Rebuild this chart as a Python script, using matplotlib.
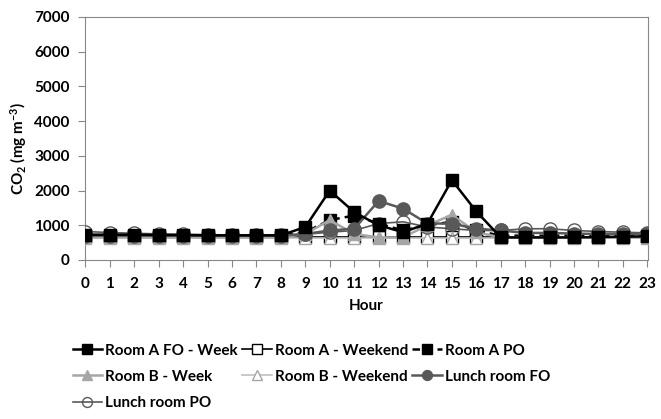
import matplotlib
matplotlib.use("Agg")
import matplotlib.pyplot as plt

plt.rcParams['font.family'] = ['Lato', 'DejaVu Sans']
plt.rcParams['font.weight'] = 'bold'
plt.rcParams['mathtext.fontset'] = 'custom'
plt.rcParams['mathtext.rm'] = 'Lato:bold'
plt.rcParams['mathtext.it'] = 'Lato:bold'
plt.rcParams['mathtext.bf'] = 'Lato:bold'
plt.rcParams['axes.unicode_minus'] = False

hours = list(range(24))
room_a_fo_week = [730, 730, 730, 720, 720, 710, 710, 710, 710, 950, 2000, 1380, 1000, 800, 1050, 2300, 1400, 650, 650, 650, 650, 660, 670, 680]
room_a_weekend = [650, 650, 650, 650, 650, 650, 650, 650, 650, 650, 650, 650, 650, 650, 650, 650, 650, 650, 650, 650, 650, 650, 650, 650]
room_a_po = [700, 700, 700, 700, 700, 700, 700, 700, 700, 800, 1150, 1280, 1050, 850, 1000, 1100, 850, 700, 700, 700, 700, 700, 700, 700]
room_b_week = [650, 650, 650, 650, 650, 650, 650, 650, 650, 750, 1150, 750, 650, 650, 1000, 1300, 800, 650, 650, 650, 650, 650, 650, 650]
room_b_weekend = [640, 640, 640, 640, 640, 640, 640, 640, 640, 640, 640, 640, 640, 640, 640, 640, 640, 640, 640, 640, 640, 640, 640, 640]
lunch_fo = [700, 700, 700, 700, 700, 700, 700, 700, 700, 750, 850, 900, 1700, 1480, 1050, 1050, 900, 850, 780, 780, 760, 750, 750, 740]
lunch_po = [820, 790, 770, 750, 740, 730, 720, 720, 720, 740, 800, 850, 1050, 1100, 950, 900, 850, 850, 900, 900, 850, 820, 800, 780]
yticks = [0, 1000, 2000, 3000, 4000, 5000, 6000, 7000]

fig = plt.figure(figsize=(6.61, 4.19), dpi=100)
ax = fig.add_axes([0.1286, 0.3795, 0.8514, 0.58])

ms = 9
h = {}
h['afo'], = ax.plot(hours, room_a_fo_week, color='black', lw=1.8, marker='s', ms=ms, mfc='black', mec='black', label='Room A FO - Week', zorder=5)
h['aw'], = ax.plot(hours, room_a_weekend, color='black', lw=1.2, marker='s', ms=ms, mfc='white', mec='black', label='Room A - Weekend', zorder=3)
h['apo'], = ax.plot(hours, room_a_po, color='black', lw=1.8, ls=(0, (3, 2)), marker='s', ms=ms, mfc='black', mec='black', label='Room A PO', zorder=4)
h['bw'], = ax.plot(hours, room_b_week, color='#a6a6a6', lw=1.8, marker='^', ms=ms, mfc='#a6a6a6', mec='#a6a6a6', label='Room B - Week', zorder=4)
h['bwe'], = ax.plot(hours, room_b_weekend, color='#bfbfbf', lw=1.2, marker='^', ms=ms, mfc='white', mec='#a6a6a6', label='Room B - Weekend', zorder=3)
h['lfo'], = ax.plot(hours, lunch_fo, color='#595959', lw=1.8, marker='o', ms=ms + 0.5, mfc='#595959', mec='#595959', label='Lunch room FO', zorder=4)
h['lpo'], = ax.plot(hours, lunch_po, color='#595959', lw=1.2, marker='o', ms=ms + 0.5, mfc='none', mec='#595959', label='Lunch room PO', zorder=3)

ax.set_ylim(0, 7000)
ax.set_xticks(hours)
ax.set_yticks(yticks)
ax.tick_params(axis='both', labelsize=11, color='#888888', direction='out', length=5)
ax.tick_params(axis='x', pad=7)
ax.tick_params(axis='y', pad=6)
for lab in ax.get_xticklabels() + ax.get_yticklabels():
    lab.set_fontweight('bold')
for s in ax.spines.values():
    s.set_color('#888888')
ax.set_xlabel('Hour', fontsize=11, fontweight='bold', labelpad=6)
ax.set_ylabel('CO$_2$ (mg m$^{-3}$)', fontsize=11, fontweight='bold')
ax.yaxis.set_label_coords(-0.1, 0.46)
ax.set_xlim(-0.02, 23.02)

order = ['afo', 'bw', 'lpo', 'aw', 'bwe', 'apo', 'lfo']
handles = [h[k] for k in order]
fig.legend(handles, [x.get_label() for x in handles], loc='upper left', bbox_to_anchor=(0.089, 0.213), ncol=3, frameon=False,
           prop={'weight': 'bold', 'size': 11}, handlelength=1.95, handletextpad=0.2,
           columnspacing=0.25, labelspacing=0.8, markerscale=0.75)
fig.savefig('out.png', dpi=100)
